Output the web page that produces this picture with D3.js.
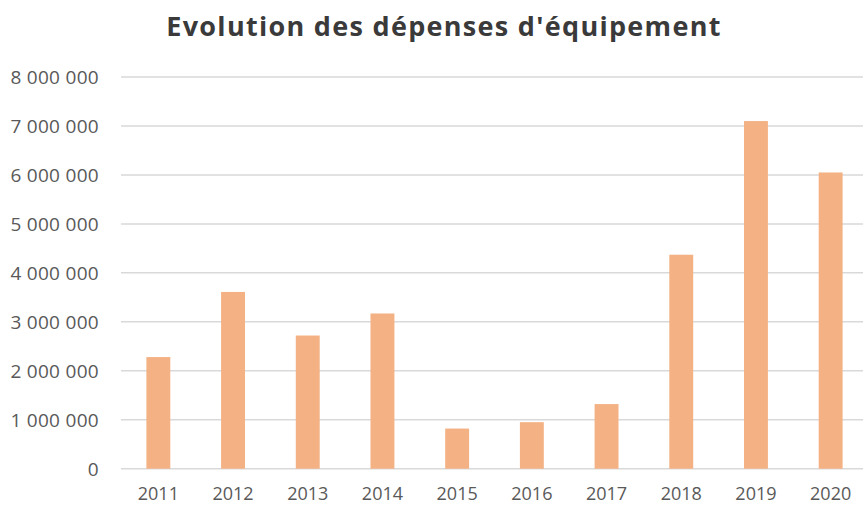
<!DOCTYPE html>
<html>
<head>
<meta charset="utf-8">
<script src="https://cdn.jsdelivr.net/npm/d3@7"></script>
<style>
  html, body { margin: 0; padding: 0; background: #fff; overflow: hidden; }
  svg { display: block; }
</style>
</head>
<body>
<svg id="chart" width="863" height="506"></svg>
<script>
const title = "Evolution des dépenses d'équipement";
const years = ["2011","2012","2013","2014","2015","2016","2017","2018","2019","2020"];
const values = [2280000, 3610000, 2720000, 3170000, 820000, 950000, 1320000, 4370000, 7100000, 6050000];
const yTicks = [0, 1000000, 2000000, 3000000, 4000000, 5000000, 6000000, 7000000, 8000000];

const svg = d3.select("#chart");
const W = 863, H = 506;
const font = "'Open Sans', 'Noto Sans', sans-serif";

const x = d3.scaleBand().domain(years).range([121, 868]).paddingInner(0.68).paddingOuter(0.34);
const y = d3.scaleLinear().domain([0, 8000000]).range([468.7, 77]);

const fmt = v => d3.format(",")(v).replace(/,/g, " ");

// gridlines
svg.append("g").selectAll("line").data(yTicks).join("line")
  .attr("x1", 121).attr("x2", W)
  .attr("y1", d => y(d)).attr("y2", d => y(d))
  .attr("stroke", "#d9d9d9").attr("stroke-width", 1.5);

// y axis labels
const yAxis = d3.axisLeft(y).tickValues(yTicks).tickFormat(fmt).tickSize(0).tickPadding(0);
const gy = svg.append("g").attr("transform", "translate(99,0)").call(yAxis);
gy.select(".domain").remove();
gy.selectAll("text").attr("font-family", font).attr("font-size", 19).attr("letter-spacing", 0.3)
  .attr("fill", "#595959").attr("dy", "0.35em");

// bars
svg.append("g").selectAll("rect").data(values).join("rect")
  .attr("x", (d, i) => x(years[i]))
  .attr("width", x.bandwidth())
  .attr("y", d => y(d))
  .attr("height", d => y(0) - y(d))
  .attr("fill", "#f4b183");

// x axis labels
const xAxis = d3.axisBottom(x).tickSize(0).tickPadding(0);
const gx = svg.append("g").attr("transform", "translate(0,494)").call(xAxis);
gx.select(".domain").remove();
gx.selectAll("text").attr("font-family", font).attr("font-size", 18).attr("fill", "#595959").attr("dy", "0.35em");

// title
svg.append("text")
  .attr("x", 444).attr("y", 36)
  .attr("text-anchor", "middle")
  .attr("font-family", font).attr("font-weight", "bold").attr("font-size", 27)
  .attr("letter-spacing", 1.3)
  .attr("fill", "#3a3a3a")
  .text(title);
</script>
</body>
</html>
